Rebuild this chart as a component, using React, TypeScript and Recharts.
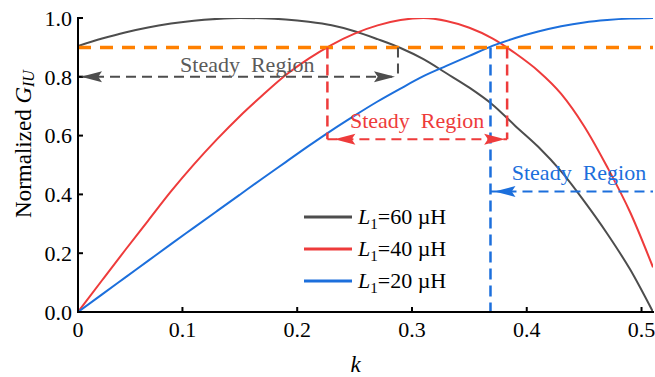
import React from 'react';
import {
  LineChart,
  Line,
  XAxis,
  YAxis,
  ReferenceLine,
  ReferenceDot,
  Legend,
} from 'recharts';

// ---- data ----
const kValues = [0.009, 0.03, 0.05, 0.07, 0.09, 0.11, 0.13, 0.15, 0.17, 0.19, 0.21, 0.23, 0.25, 0.27, 0.29, 0.31, 0.33, 0.35, 0.37, 0.39, 0.41, 0.43, 0.45, 0.47, 0.49, 0.51];
const g60 = [0.905, 0.93, 0.951, 0.968, 0.981, 0.991, 0.997, 1.0, 0.999, 0.995, 0.987, 0.975, 0.955, 0.928, 0.898, 0.86, 0.812, 0.763, 0.706, 0.633, 0.562, 0.478, 0.377, 0.267, 0.145, 0.0];
const g40 = [0, 0.108, 0.21, 0.31, 0.41, 0.502, 0.587, 0.666, 0.738, 0.806, 0.862, 0.909, 0.947, 0.975, 0.993, 1.0, 0.99, 0.967, 0.931, 0.88, 0.82, 0.742, 0.632, 0.494, 0.34, 0.152];
const g20 = [0, 0.06, 0.117, 0.174, 0.231, 0.287, 0.343, 0.399, 0.455, 0.51, 0.565, 0.618, 0.668, 0.716, 0.76, 0.802, 0.837, 0.871, 0.905, 0.932, 0.954, 0.972, 0.985, 0.993, 0.998, 1.0];

const seriesNames = ['60', '40', '20'];
const xDomain = [0.009, 0.51];
const xTicks = [0.009, 0.1, 0.2, 0.3, 0.4, 0.5];
const xTickLabels = ['0', '0.1', '0.2', '0.3', '0.4', '0.5'];
const yTicks = [0, 0.2, 0.4, 0.6, 0.8, 1.0];

const steadyLevel = 0.9;
// steady region boundaries (k) and arrow rows (G)
const blackRegion = [0.009, 0.2878];
const blackRow = 0.8;
const redRegion = [0.2263, 0.3829];
const redRow = 0.588;
const blueRegion = [0.3684, 0.51];
const blueRow = 0.41;
// label anchors [k, G]
const blackLabel = [0.1565, 0.818];
const redLabel = [0.3045, 0.626];
const blueLabel = [0.4455, 0.45];

const COL60 = '#4D4D4D';
const COL40 = '#EE3B3B';
const COL20 = '#1C6FDC';
const ORANGE = '#FF8000';
const FONT = '"Liberation Serif", "Times New Roman", serif';

const data = kValues.map((k, i) => ({ k, g60: g60[i], g40: g40[i], g20: g20[i] }));

const arrow = (dir: number, color: string, offset: number) => (props: any) => {
  const { cx, cy } = props;
  if (cx == null || cy == null) return <g />;
  const L = 21;
  const h = 5.5;
  const tip = cx + offset;
  const back = tip - dir * L;
  const notch = tip - dir * L * 0.82;
  const d = `M${tip},${cy} L${back},${cy - h} L${notch},${cy} L${back},${cy + h} Z`;
  return <path d={d} fill={color} stroke="none" />;
};

const label = (color: string) => (props: any) => {
  const { cx, cy } = props;
  if (cx == null || cy == null) return <g />;
  return (
    <text x={cx} y={cy} textAnchor="middle" fill={color} fontFamily={FONT} fontSize={22} style={{ whiteSpace: 'pre', fontFamily: FONT }}>
      {'Steady  Region'}
    </text>
  );
};

const YLabel = (props: any) => {
  const vb = props.viewBox || { x: 8, y: 18, width: 70, height: 294 };
  const cx = vb.x + 15;
  const cy = vb.y + vb.height / 2 - 21;
  return (
    <text
      x={cx}
      y={cy}
      transform={`rotate(-90, ${cx}, ${cy})`}
      textAnchor="middle"
      dominantBaseline="central"
      fontFamily={FONT}
      fontSize={23}
      fill="#000"
    >
      <tspan>Normalized </tspan>
      <tspan fontStyle="italic">G</tspan>
      <tspan fontStyle="italic" fontSize={16} dy={5}>IU</tspan>
    </text>
  );
};

const XLabel = (props: any) => {
  const vb = props.viewBox || { x: 78, y: 312, width: 575, height: 65 };
  return (
    <text x={vb.x + vb.width / 2 - 10} y={vb.y + 60} textAnchor="middle" fontFamily={FONT} fontSize={23} fontStyle="italic" fill="#000">
      k
    </text>
  );
};

const LegendContent = () => {
  const cols = [COL60, COL40, COL20];
  return (
    <div style={{ fontFamily: FONT, fontSize: 22, color: '#000' }}>
      {seriesNames.map((n, i) => (
        <div key={n} style={{ display: 'flex', alignItems: 'center', height: 32, lineHeight: 1 }}>
          <svg width={48} height={6} style={{ marginRight: 6 }}>
            <line x1={0} y1={3} x2={48} y2={3} stroke={cols[i]} strokeWidth={3} />
          </svg>
          <span>
            <span style={{ fontStyle: 'italic' }}>L</span>
            <span style={{ fontSize: 15, position: 'relative', top: 5 }}>1</span>
            {`=${n} \u00B5H`}
          </span>
        </div>
      ))}
    </div>
  );
};

const axisLine = { stroke: '#000', strokeWidth: 2, strokeLinecap: 'square' as const };
const tickLine = { stroke: '#000', strokeWidth: 2 };
const tickStyle = { fill: '#000', fontFamily: FONT, fontSize: 22 };

export default function App() {
  return (
    <div style={{ position: 'absolute', left: 0, top: 0, background: '#fff', fontFamily: FONT }}>
      <LineChart width={655} height={377} data={data} margin={{ top: 18, right: 2, bottom: 0, left: 8 }}>
        <XAxis
          dataKey="k"
          type="number"
          domain={xDomain}
          ticks={xTicks}
          tickFormatter={(v: number) => xTickLabels[xTicks.indexOf(v)] ?? ''}
          allowDataOverflow
          height={65}
          axisLine={axisLine}
          tickLine={tickLine}
          tickSize={-5}
          tickMargin={14}
          tick={tickStyle}
          interval={0}
          label={{ content: XLabel }}
        />
        <XAxis
          xAxisId="top"
          orientation="top"
          type="number"
          domain={xDomain}
          ticks={xTicks}
          tickFormatter={() => ''}
          allowDataOverflow
          height={0}
          axisLine={axisLine}
          tickLine={tickLine}
          tickSize={-5}
          interval={0}
        />
        <YAxis
          type="number"
          domain={[0, 1]}
          ticks={yTicks}
          tickFormatter={(v: number) => v.toFixed(1)}
          allowDataOverflow
          width={70}
          axisLine={axisLine}
          tickLine={tickLine}
          tickSize={-5}
          tickMargin={11}
          tick={tickStyle}
          interval={0}
          label={{ content: YLabel }}
        />
        <YAxis
          yAxisId="right"
          orientation="right"
          type="number"
          domain={[0, 1]}
          ticks={yTicks}
          tickFormatter={() => ''}
          allowDataOverflow
          width={0}
          axisLine={axisLine}
          tickLine={tickLine}
          tickSize={-5}
          interval={0}
        />

        <Legend
          layout="vertical"
          verticalAlign="middle"
          align="center"
          content={LegendContent}
          wrapperStyle={{ left: 304, top: 201, width: 170 }}
        />

        <Line type="monotone" dataKey="g60" stroke={COL60} strokeWidth={2} dot={false} isAnimationActive={false} />
        <Line type="monotone" dataKey="g40" stroke={COL40} strokeWidth={2} dot={false} isAnimationActive={false} />
        <Line type="monotone" dataKey="g20" stroke={COL20} strokeWidth={2} dot={false} isAnimationActive={false} />

        {/* steady threshold */}
        <ReferenceLine y={steadyLevel} stroke={ORANGE} strokeWidth={3.5} strokeDasharray="13 9" ifOverflow="visible" />

        {/* black region */}
        <ReferenceLine segment={[{ x: blackRegion[0], y: blackRow }, { x: blackRegion[1], y: blackRow }]} stroke={COL60} strokeWidth={2} strokeDasharray="10 6" ifOverflow="visible" />
        <ReferenceLine segment={[{ x: blackRegion[1], y: steadyLevel }, { x: blackRegion[1], y: blackRow }]} stroke={COL60} strokeWidth={2} strokeDasharray="10 6" ifOverflow="visible" />
        <ReferenceDot x={blackRegion[0]} y={blackRow} ifOverflow="visible" shape={arrow(-1, COL60, 3)} />
        <ReferenceDot x={blackRegion[1]} y={blackRow} ifOverflow="visible" shape={arrow(1, COL60, -3)} />
        <ReferenceDot x={blackLabel[0]} y={blackLabel[1]} ifOverflow="visible" shape={label('#5A5A5A')} />

        {/* red region */}
        <ReferenceLine segment={[{ x: redRegion[0], y: steadyLevel }, { x: redRegion[0], y: redRow }]} stroke={COL40} strokeWidth={2.5} strokeDasharray="11 6" ifOverflow="visible" />
        <ReferenceLine segment={[{ x: redRegion[1], y: steadyLevel }, { x: redRegion[1], y: redRow }]} stroke={COL40} strokeWidth={2.5} strokeDasharray="11 6" ifOverflow="visible" />
        <ReferenceLine segment={[{ x: redRegion[0], y: redRow }, { x: redRegion[1], y: redRow }]} stroke={COL40} strokeWidth={2} strokeDasharray="10 6" ifOverflow="visible" />
        <ReferenceDot x={redRegion[0]} y={redRow} ifOverflow="visible" shape={arrow(-1, COL40, 7)} />
        <ReferenceDot x={redRegion[1]} y={redRow} ifOverflow="visible" shape={arrow(1, COL40, -2)} />
        <ReferenceDot x={redLabel[0]} y={redLabel[1]} ifOverflow="visible" shape={label(COL40)} />

        {/* blue region */}
        <ReferenceLine segment={[{ x: blueRegion[0], y: steadyLevel }, { x: blueRegion[0], y: 0 }]} stroke={COL20} strokeWidth={2.5} strokeDasharray="11 6" ifOverflow="visible" />
        <ReferenceLine segment={[{ x: blueRegion[0], y: blueRow }, { x: blueRegion[1], y: blueRow }]} stroke={COL20} strokeWidth={2} strokeDasharray="10 6" ifOverflow="visible" />
        <ReferenceDot x={blueRegion[0]} y={blueRow} ifOverflow="visible" shape={arrow(-1, COL20, 4)} />
        <ReferenceDot x={blueLabel[0]} y={blueLabel[1]} ifOverflow="visible" shape={label(COL20)} />
      </LineChart>
    </div>
  );
}
